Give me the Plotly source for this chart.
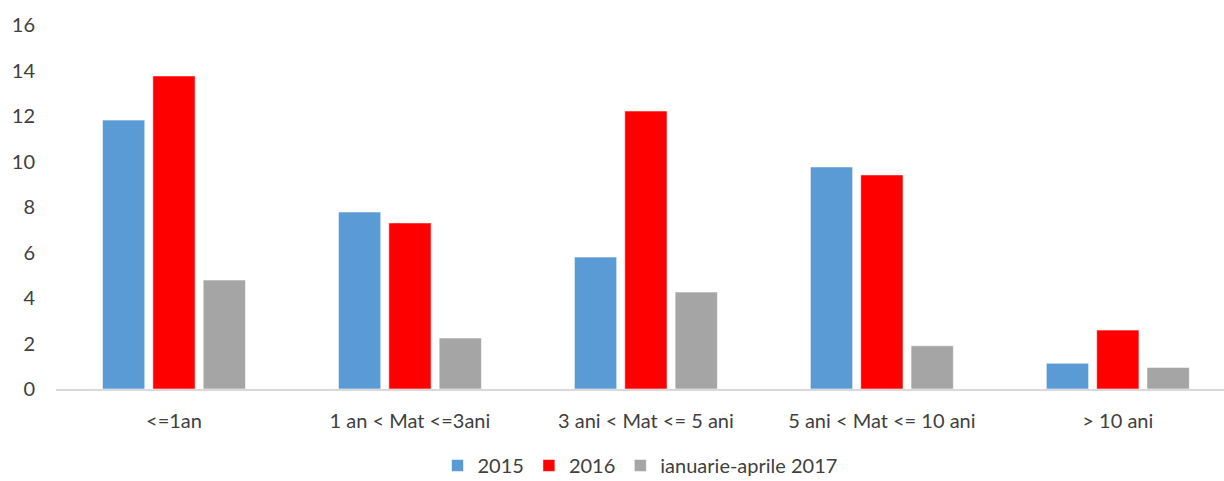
import plotly.graph_objects as go

categories = ["<=1an", "1 an < Mat <=3ani", "3 ani < Mat <= 5 ani", "5 ani < Mat <= 10 ani", "> 10 ani"]
values_2015 = [11.82, 7.78, 5.80, 9.76, 1.13]
values_2016 = [13.76, 7.30, 12.22, 9.41, 2.59]
values_2017 = [4.79, 2.24, 4.26, 1.90, 0.95]
series_names = ["2015", "2016", "ianuarie-aprile 2017"]
series_colors = ["#5B9BD5", "#FF0000", "#A5A5A5"]
y_ticks = [0, 2, 4, 6, 8, 10, 12, 14, 16]

fig = go.Figure()
for name, vals, color in zip(series_names, [values_2015, values_2016, values_2017], series_colors):
    fig.add_trace(go.Bar(
        x=categories, y=vals, name=name,
        marker=dict(color=color, line=dict(color="rgba(255,255,255,0.55)", width=1)),
    ))

font_family = "Lato, 'Open Sans', sans-serif"
fig.update_layout(
    width=1224, height=481,
    margin=dict(l=56, r=0, t=25, b=92, autoexpand=False),
    paper_bgcolor="white", plot_bgcolor="white",
    barmode="group", bargap=0.36, bargroupgap=0.16,
    font=dict(family=font_family, size=20, color="#404040"),
    showlegend=True,
    legend=dict(orientation="h", x=0.5, xanchor="center", y=-0.21, yanchor="middle",
                font=dict(size=20, color="#404040"), traceorder="normal"),
    xaxis=dict(range=[-0.5, 4.45], showline=True, linecolor="#D9D9D9", linewidth=2,
               ticks="", showgrid=False, ticklabelstandoff=13, automargin=False,
               tickfont=dict(size=20)),
    yaxis=dict(range=[0, 16], tickvals=y_ticks, showgrid=False, zeroline=False,
               showline=False, ticks="", ticklabelstandoff=20, automargin=False,
               tickfont=dict(size=20)),
)

fig.write_html("out.html")
